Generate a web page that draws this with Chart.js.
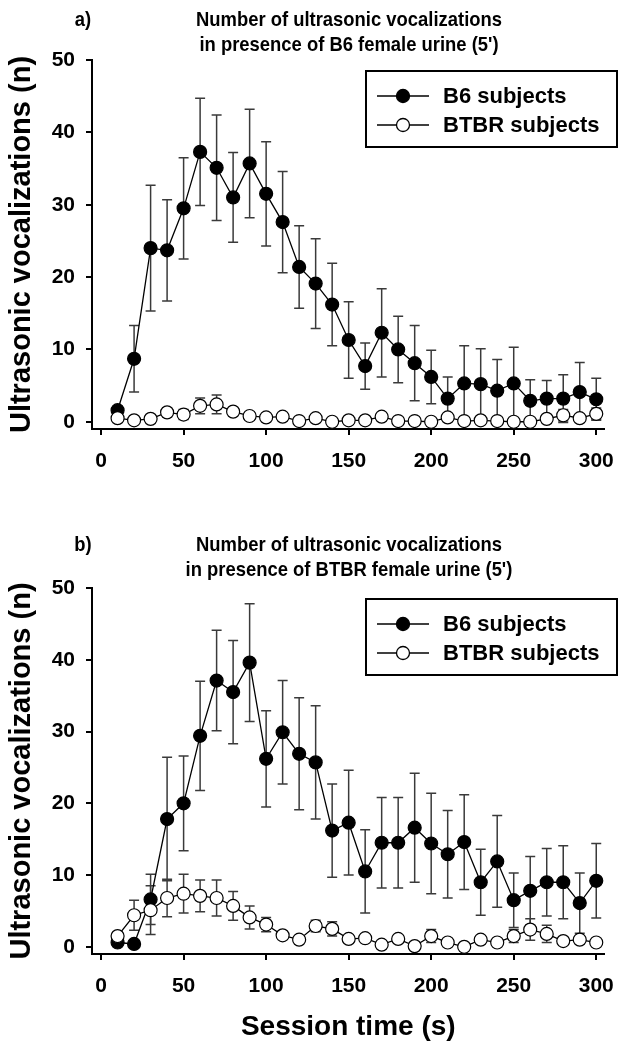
<!DOCTYPE html>
<html>
<head>
<meta charset="utf-8">
<script src="https://cdn.jsdelivr.net/npm/chart.js@4/dist/chart.umd.min.js"></script>
<style>
  body { margin: 0; background: #fff; }
  .panel { position: absolute; left: 0; width: 628px; }
</style>
</head>
<body>
<div class="panel" style="top:0;height:500px"><canvas id="chartA" width="628" height="500"></canvas></div>
<div class="panel" style="top:500px;height:548px"><canvas id="chartB" width="628" height="548"></canvas></div>
<script>
'use strict';

// data (session time in s, mean +/- error)
let sessionTime = [10, 20, 30, 40, 50, 60, 70, 80, 90, 100, 110, 120, 130, 140, 150,
    160, 170, 180, 190, 200, 210, 220, 230, 240, 250, 260, 270, 280, 290, 300];
let xTicks = [0, 50, 100, 150, 200, 250, 300];
let yTicks = [0, 10, 20, 30, 40, 50];
let seriesNames = ['B6 subjects', 'BTBR subjects'];

// a) B6 female urine
let b6A = [1.6, 8.7, 24.0, 23.7, 29.5, 37.3, 35.1, 31.0, 35.7, 31.5, 27.6, 21.4, 19.1, 16.2, 11.3,
    7.7, 12.3, 10.0, 8.1, 6.2, 3.2, 5.3, 5.2, 4.3, 5.3, 2.9, 3.2, 3.2, 4.1, 3.1];
let b6AErr = [0.5, 4.6, 8.7, 7.0, 7.0, 7.4, 7.3, 6.2, 7.5, 7.2, 7.0, 5.7, 6.2, 5.7, 5.3,
    3.2, 6.1, 4.6, 5.2, 3.7, 3.0, 5.2, 4.9, 4.3, 5.0, 2.9, 2.5, 3.3, 4.1, 2.9];
let btbrA = [0.5, 0.2, 0.4, 1.3, 1.0, 2.2, 2.4, 1.4, 0.8, 0.6, 0.7, 0.1, 0.5, 0.0, 0.2,
    0.2, 0.7, 0.1, 0.1, 0.0, 0.6, 0.1, 0.2, 0.1, 0.0, 0.0, 0.4, 0.9, 0.5, 1.1];
let btbrAErr = [0.2, 0.1, 0.2, 0.6, 0.7, 1.1, 1.3, 0.4, 0.3, 0.3, 0.3, 0.1, 0.3, 0.1, 0.1,
    0.1, 0.4, 0.1, 0.1, 0.1, 0.3, 0.1, 0.2, 0.1, 0.1, 0.1, 0.3, 0.8, 0.4, 0.8];

// b) BTBR female urine
let b6B = [0.6, 0.4, 6.6, 17.8, 20.0, 29.4, 37.1, 35.5, 39.6, 26.2, 29.9, 26.9, 25.7, 16.2, 17.3,
    10.5, 14.5, 14.5, 16.6, 14.4, 12.9, 14.6, 9.0, 11.9, 6.5, 7.8, 9.0, 9.0, 6.1, 9.2];
let b6BErr = [0.3, 0.3, 3.5, 8.6, 6.6, 7.6, 7.0, 7.2, 8.2, 6.7, 7.2, 7.8, 7.9, 6.5, 7.3,
    5.8, 6.3, 6.3, 7.6, 7.0, 6.1, 6.6, 4.6, 6.4, 3.8, 4.8, 4.7, 5.1, 4.2, 5.2];
let btbrB = [1.5, 4.4, 5.1, 6.8, 7.4, 7.1, 6.8, 5.7, 4.1, 3.1, 1.6, 1.0, 2.9, 2.5, 1.1,
    1.2, 0.3, 1.1, 0.1, 1.5, 0.6, 0.0, 1.0, 0.6, 1.5, 2.4, 1.8, 0.8, 1.0, 0.6];
let btbrBErr = [0.3, 2.1, 3.4, 2.6, 2.7, 2.2, 2.5, 2.0, 1.6, 1.0, 0.4, 0.3, 0.8, 1.0, 0.3,
    0.3, 0.2, 0.3, 0.1, 0.9, 0.3, 0.1, 0.3, 0.3, 0.9, 1.5, 1.2, 0.4, 0.4, 0.3];

let FONT = '"Liberation Sans", Arial, sans-serif';

function toPoints(values) {
    return values.map((v, i) => ({ x: sessionTime[i], y: v }));
}

// vertical error bars with caps, drawn under the markers
let errorBars = {
    id: 'errorBars',
    beforeDatasetsDraw(chart) {
        let ctx = chart.ctx;
        let xs = chart.scales.x;
        let ys = chart.scales.y;
        let area = chart.chartArea;
        ctx.save();
        ctx.beginPath();
        ctx.rect(area.left, area.top - 10, area.right - area.left, area.bottom - area.top + 10);
        ctx.clip();
        ctx.strokeStyle = '#3a3a3a';
        ctx.lineWidth = 1.5;
        chart.data.datasets.forEach(ds => {
            ds.data.forEach((p, i) => {
                let e = ds.errors[i];
                if (!e) return;
                let px = xs.getPixelForValue(p.x);
                let top = ys.getPixelForValue(p.y + e);
                let bot = ys.getPixelForValue(p.y - e);
                ctx.beginPath();
                ctx.moveTo(px, top);
                ctx.lineTo(px, bot);
                ctx.moveTo(px - 5, top);
                ctx.lineTo(px + 5, top);
                ctx.moveTo(px - 5, bot);
                ctx.lineTo(px + 5, bot);
                ctx.stroke();
            });
        });
        ctx.restore();
    }
};

// condensed bold text, like the narrow face of the original
function narrowText(ctx, text, x, y, sx) {
    ctx.save();
    ctx.translate(x, y);
    ctx.scale(sx, 1);
    ctx.fillText(text, 0, 0);
    ctx.restore();
}

// panel letter, two-line title and boxed legend
let decorations = {
    id: 'decorations',
    afterDraw(chart, args, opts) {
        let ctx = chart.ctx;
        let area = chart.chartArea;
        ctx.save();
        ctx.fillStyle = '#000';
        ctx.textBaseline = 'middle';
        ctx.font = 'bold 21px ' + FONT;
        ctx.textAlign = 'center';
        let sx = 306 / ctx.measureText(opts.title[0]).width;
        narrowText(ctx, opts.letter, 83, opts.titleY, sx);
        narrowText(ctx, opts.title[0], 349, opts.titleY, sx);
        narrowText(ctx, opts.title[1], 349, opts.titleY + 25, sx);

        // legend
        let bx = area.left + 274;
        let by = area.top + 11;
        ctx.lineWidth = 2;
        ctx.strokeStyle = '#000';
        ctx.strokeRect(bx, by, 251, 76);
        ctx.font = 'bold 22px ' + FONT;
        ctx.textAlign = 'left';
        chart.data.datasets.slice().reverse().forEach((ds, i) => {
            let ry = by + 25 + i * 29;
            ctx.lineWidth = 1.3;
            ctx.beginPath();
            ctx.moveTo(bx + 11, ry);
            ctx.lineTo(bx + 63, ry);
            ctx.stroke();
            ctx.beginPath();
            ctx.arc(bx + 37, ry, 6.5, 0, Math.PI * 2);
            ctx.fillStyle = ds.pointBackgroundColor;
            ctx.fill();
            ctx.stroke();
            ctx.fillStyle = '#000';
            ctx.fillText(ds.label, bx + 77, ry + 1);
        });
        ctx.restore();
    }
};

function makeChart(canvasId, b6, b6Err, btbr, btbrErr, panel) {
    let chartObject = {
        type: 'line',
        data: {
            datasets: [
                {
                    label: seriesNames[1],
                    data: toPoints(btbr),
                    errors: btbrErr,
                    order: 1,
                    borderColor: '#000',
                    borderWidth: 1.3,
                    pointBackgroundColor: '#fff',
                    pointBorderColor: '#000',
                    pointBorderWidth: 1.2,
                    pointRadius: 6.5
                },
                {
                    label: seriesNames[0],
                    data: toPoints(b6),
                    errors: b6Err,
                    order: 2,
                    borderColor: '#000',
                    borderWidth: 1.3,
                    pointBackgroundColor: '#000',
                    pointBorderColor: '#000',
                    pointBorderWidth: 1.2,
                    pointRadius: 6.5
                }
            ]
        },
        options: {
            responsive: false,
            animation: false,
            devicePixelRatio: 1,
            clip: false,
            layout: { padding: { left: 0, right: 15, top: panel.top, bottom: 0 } },
            plugins: {
                legend: { display: false },
                tooltip: { enabled: false },
                decorations: panel
            },
            scales: {
                x: {
                    type: 'linear',
                    min: -5.5,
                    max: 305,
                    afterBuildTicks: s => { s.ticks = xTicks.map(v => ({ value: v })); },
                    afterFit: s => { s.height = panel.xHeight; },
                    grid: { drawOnChartArea: false, drawTicks: true, tickLength: 6, color: '#000', lineWidth: 2 },
                    border: { display: true, color: '#000', width: 2 },
                    ticks: { color: '#000', padding: 14, maxRotation: 0, font: { family: FONT, size: 21, weight: 'bold' } },
                    title: {
                        display: panel.xTitle !== '',
                        text: panel.xTitle,
                        color: '#000',
                        padding: { top: 0, bottom: 4 },
                        font: { family: FONT, size: 28, weight: 'bold' }
                    }
                },
                y: {
                    type: 'linear',
                    min: -1,
                    max: 50,
                    afterBuildTicks: s => { s.ticks = yTicks.map(v => ({ value: v })); },
                    afterFit: s => { s.width = 92; },
                    grid: { drawOnChartArea: false, drawTicks: true, tickLength: 6, color: '#000', lineWidth: 2 },
                    border: { display: true, color: '#000', width: 2 },
                    ticks: { color: '#000', padding: 11, font: { family: FONT, size: 21, weight: 'bold' } },
                    title: {
                        display: true,
                        text: 'Ultrasonic vocalizations (n)',
                        color: '#000',
                        padding: { top: 5, bottom: 0 },
                        font: { family: FONT, size: 29, weight: 'bold' }
                    }
                }
            }
        },
        plugins: [errorBars, decorations]
    };
    let ctx = document.getElementById(canvasId).getContext('2d');
    return new Chart(ctx, chartObject);
}

makeChart('chartA', b6A, b6AErr, btbrA, btbrAErr, {
    letter: 'a)',
    title: ['Number of ultrasonic vocalizations', 'in presence of B6 female urine (5\')'],
    titleY: 20,
    top: 60,
    xHeight: 71,
    xTitle: ''
});

makeChart('chartB', b6B, b6BErr, btbrB, btbrBErr, {
    letter: 'b)',
    title: ['Number of ultrasonic vocalizations', 'in presence of BTBR female urine (5\')'],
    titleY: 45,
    top: 88,
    xHeight: 94,
    xTitle: 'Session time (s)'
});
</script>
</body>
</html>
